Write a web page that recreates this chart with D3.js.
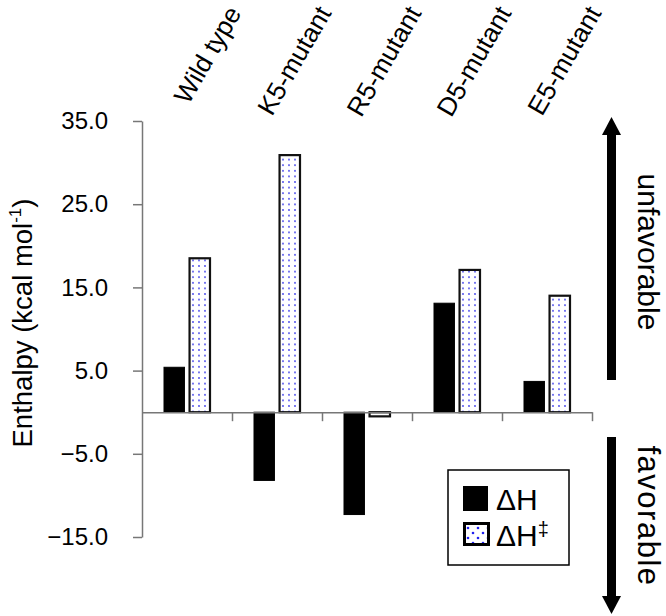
<!DOCTYPE html>
<html>
<head>
<meta charset="utf-8">
<script src="https://cdn.jsdelivr.net/npm/d3@7"></script>
<style>
  body { margin: 0; background: #fff; }
  svg { display: block; font-family: "Liberation Sans", Arial, sans-serif; }
</style>
</head>
<body>
<div id="container"></div>
<script>
const categories = ["Wild type", "K5-mutant", "R5-mutant", "D5-mutant", "E5-mutant"];
const seriesKeys = ["dH", "dHts"];
const deltaH = [5.4, -8.2, -12.3, 13.1, 3.7];
const deltaHts = [18.5, 30.9, -0.5, 17.1, 14.0];
const yTicks = [-15, -5, 5, 15, 25, 35];

const width = 666;
const height = 616;
const margin = { t: 121, r: 74, b: 79, l: 142 };

const rows = categories.map((c, i) => ({ cat: c, dH: deltaH[i], dHts: deltaHts[i] }));

const svg = d3
  .select("#container")
  .append("svg")
  .attr("width", width)
  .attr("height", height);

const defs = svg.append("defs");

// dotted fill for the ΔH‡ bars
const pat = defs.append("pattern")
  .attr("id", "dots")
  .attr("patternUnits", "userSpaceOnUse")
  .attr("width", 6)
  .attr("height", 5.6);
pat.append("rect").attr("width", 6).attr("height", 5.6).attr("fill", "#fff");
pat.append("circle").attr("cx", 3).attr("cy", 2.8).attr("r", 0.9).attr("fill", "#3535e8");

const patL = defs.append("pattern")
  .attr("id", "dotsLegend")
  .attr("patternUnits", "userSpaceOnUse")
  .attr("width", 10)
  .attr("height", 10);
patL.append("rect").attr("width", 10).attr("height", 10).attr("fill", "#fff");
patL.append("circle").attr("cx", 3).attr("cy", 3).attr("r", 1.3).attr("fill", "#2020f0");
patL.append("circle").attr("cx", 8).attr("cy", 8).attr("r", 1.3).attr("fill", "#2020f0");

const x0 = d3
  .scaleBand()
  .domain(categories)
  .range([margin.l, width - margin.r])
  .padding(0);

const x1 = d3
  .scaleBand()
  .domain(seriesKeys)
  .range([22, 68])
  .paddingInner(0.2);

const y = d3
  .scaleLinear()
  .domain([-15, 35])
  .range([height - margin.b, margin.t]);

// bars
const groups = svg.append("g")
  .selectAll("g")
  .data(rows)
  .enter()
  .append("g")
  .attr("transform", d => `translate(${x0(d.cat)},0)`);

groups.append("rect")
  .attr("x", x1("dH"))
  .attr("width", x1.bandwidth())
  .attr("y", d => y(Math.max(0, d.dH)))
  .attr("height", d => Math.abs(y(d.dH) - y(0)))
  .attr("fill", "#000")
  .attr("stroke", "#000")
  .attr("stroke-width", 1);

groups.append("rect")
  .attr("x", x1("dHts"))
  .attr("width", x1.bandwidth())
  .attr("y", d => y(Math.max(0, d.dHts)))
  .attr("height", d => Math.abs(y(d.dHts) - y(0)))
  .attr("fill", "url(#dots)")
  .attr("stroke", "#111")
  .attr("stroke-width", 2.2);

// y axis
const yAxis = svg.append("g")
  .attr("transform", `translate(${margin.l},0)`)
  .call(d3.axisLeft(y).tickValues(yTicks).tickFormat(d3.format(".1f")).tickSize(9).tickPadding(25).tickSizeOuter(0));
yAxis.selectAll("line, path").attr("stroke", "#777").attr("stroke-width", 1.5);
yAxis.selectAll("text").attr("font-size", 24).attr("fill", "#000").attr("font-family", null);

// zero line with category separators
const xi = d3.scaleLinear().domain([0, categories.length]).range([margin.l, width - margin.r]);
const xAxis = svg.append("g")
  .attr("transform", `translate(0,${y(0)})`)
  .call(d3.axisBottom(xi).tickValues(d3.range(1, categories.length + 1)).tickFormat("").tickSize(9).tickSizeOuter(0));
xAxis.selectAll("line, path").attr("stroke", "#777").attr("stroke-width", 1.5);

// category labels on top
svg.append("g")
  .selectAll("text")
  .data(categories)
  .enter()
  .append("text")
  .attr("transform", d => `translate(${x0(d) + x0.bandwidth() / 2 + 55},13) rotate(-60)`)
  .attr("text-anchor", "end")
  .attr("font-size", 26)
  .text(d => d);

// y title
svg.append("text")
  .attr("transform", `translate(32,323) rotate(-90)`)
  .attr("text-anchor", "middle")
  .attr("font-size", 27.5)
  .text("Enthalpy (kcal mol")
  .append("tspan")
  .attr("font-size", 17)
  .attr("dy", -11)
  .text("-1")
  .select(function () { return this.parentNode; })
  .append("tspan")
  .attr("dy", 11)
  .text(")");

// legend
const lg = svg.append("g");
lg.append("rect")
  .attr("x", 448).attr("y", 470).attr("width", 121).attr("height", 95)
  .attr("fill", "#fff").attr("stroke", "#000").attr("stroke-width", 1.5);
lg.append("rect")
  .attr("x", 463).attr("y", 486).attr("width", 25).attr("height", 25)
  .attr("fill", "#000");
lg.append("rect")
  .attr("x", 464.5).attr("y", 523.5).attr("width", 24).attr("height", 21)
  .attr("fill", "url(#dotsLegend)").attr("stroke", "#000").attr("stroke-width", 3);
lg.append("text").attr("x", 496).attr("y", 510).attr("font-size", 30).text("ΔH");
lg.append("text").attr("x", 496).attr("y", 546).attr("font-size", 30).text("ΔH")
  .append("tspan").attr("font-size", 20).attr("dy", -10).text("‡");

// arrows
const ar = svg.append("g").attr("fill", "#000");
ar.append("rect").attr("x", 607).attr("y", 132).attr("width", 9).attr("height", 248);
ar.append("path").attr("d", "M602,135 L621,135 L611.5,117 Z");
ar.append("rect").attr("x", 607).attr("y", 437).attr("width", 9).attr("height", 162);
ar.append("path").attr("d", "M602,596 L621,596 L611.5,614 Z");

svg.append("text")
  .attr("transform", "translate(638,252) rotate(90)")
  .attr("text-anchor", "middle")
  .attr("font-size", 30)
  .text("unfavorable");
svg.append("text")
  .attr("transform", "translate(638,516) rotate(90)")
  .attr("text-anchor", "middle")
  .attr("font-size", 31)
  .attr("letter-spacing", 1.5)
  .text("favorable");
</script>
</body>
</html>
